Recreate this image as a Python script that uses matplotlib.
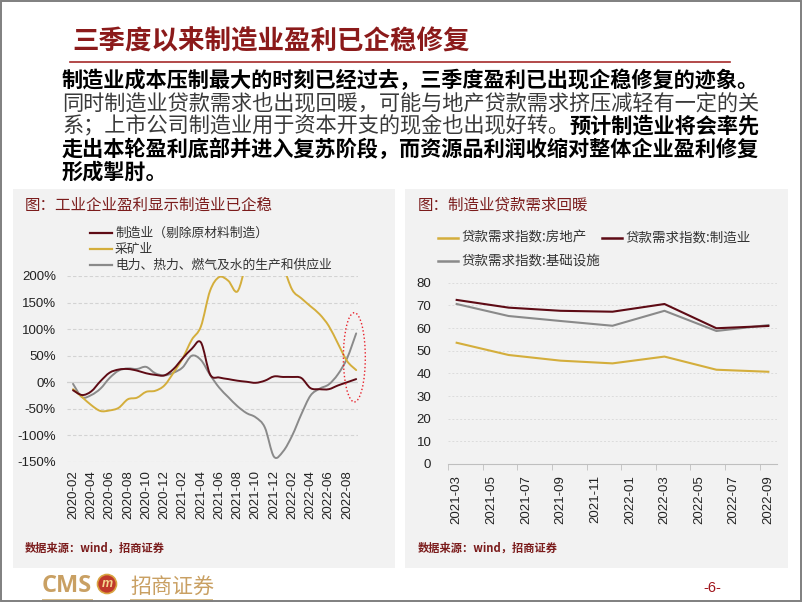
import matplotlib
matplotlib.use("Agg")
import matplotlib.pyplot as plt
from matplotlib.patches import Rectangle, Ellipse, Circle, PathPatch
from matplotlib.path import Path
import pandas as pd

plt.rcParams['font.family'] = ['Noto Sans CJK SC', 'DejaVu Sans']

W, H = 802, 602
NUM_FONT = ['Liberation Sans', 'DejaVu Sans']
DARK_RED = '#7B1C1C'

# ---- left chart: industrial profit growth (%), monthly 2020-02 .. 2022-09
months = pd.date_range('2020-02', '2022-09', freq='MS').strftime('%Y-%m').tolist()
mfg_profit = [-15, -24, -17, 2, 18, 24, 25, 22, 17, 14, 13, 25, 45, 63, 75, 15,
              9, 6, 3, 1, -1, 3, 11, 10, 10, 8, -11, -13, -13, -6, 0, 6]
mining_profit = [-13, -28, -43, -54, -53, -48, -32, -29, -18, -16, -6, 18, 45, 80, 105, 172,
                 198, 191, 171, 225, 265, 290, 270, 220, 174, 158, 143, 128, 106, 73, 40, 23]
util_profit = [-3, -28, -24, -12, 8, 22, 26, 25, 29, 17, 13, 18, 28, 50, 42, 14,
               -10, -28, -45, -58, -66, -85, -140, -130, -100, -60, -25, -12, -4, 15, 45, 92]
left_labels = ['制造业（剔除原材料制造）', '采矿业', '电力、热力、燃气及水的生产和供应业']

# ---- right chart: loan demand index, quarterly
loan_months = pd.date_range('2021-03', '2022-09', freq='MS').strftime('%Y-%m').tolist()
loan_quarters = ['2021-03', '2021-06', '2021-09', '2021-12', '2022-03', '2022-06', '2022-09']
loan_realestate = [53.5, 48.1, 45.6, 44.4, 47.4, 41.6, 40.7]
loan_mfg = [72.4, 69.0, 67.6, 67.2, 70.6, 59.9, 60.9]
loan_infra = [70.6, 65.3, 63.1, 61.0, 67.6, 58.7, 61.3]
right_labels = ['贷款需求指数:房地产', '贷款需求指数:制造业', '贷款需求指数:基础设施']

C_RED = '#5E0B15'
C_GOLD = '#D4AE3C'
C_GRAY = '#8A8A8A'


def px_axes(x0, y0, x1, y1):
    return fig.add_axes([x0 / W, 1 - y1 / H, (x1 - x0) / W, (y1 - y0) / H])


def pt(px):
    return px * 0.72


def smooth_line(ax, x, y, color, lw):
    # excel-style smoothed line: cubic bezier through every data point
    n = len(x)
    verts = [(x[0], y[0])]
    codes = [Path.MOVETO]
    for i in range(n - 1):
        a = max(i - 1, 0)
        b = min(i + 2, n - 1)
        c1 = (x[i] + (x[i + 1] - x[a]) / 6, y[i] + (y[i + 1] - y[a]) / 6)
        c2 = (x[i + 1] - (x[b] - x[i]) / 6, y[i + 1] - (y[b] - y[i]) / 6)
        verts += [c1, c2, (x[i + 1], y[i + 1])]
        codes += [Path.CURVE4] * 3
    ax.add_patch(PathPatch(Path(verts, codes), fill=False, ec=color, lw=lw,
                           capstyle='round', joinstyle='round'))


fig = plt.figure(figsize=(W / 100, H / 100), dpi=100)
bg = fig.add_axes([0, 0, 1, 1])
bg.set_xlim(0, W)
bg.set_ylim(H, 0)
bg.axis('off')

# heading
bg.text(72, 42, '三季度以来制造业盈利已企稳修复', fontsize=pt(26.5), color='#8B1A1A',
        weight='bold', va='center')
bg.plot([70, 730], [62, 62], color='#A52A2A', lw=1.2)

# paragraph, mixing bold and regular runs
para = [
    [('制造业成本压制最大的时刻已经过去，三季度盈利已出现企稳修复的迹象。', True)],
    [('同时制造业贷款需求也出现回暖，可能与地产贷款需求挤压减轻有一定的关', False)],
    [('系；上市公司制造业用于资本开支的现金也出现好转。', False), ('预计制造业将会率先', True)],
    [('走出本轮盈利底部并进入复苏阶段，而资源品利润收缩对整体企业盈利修复', True)],
    [('形成掣肘。', True)],
]
for k, runs in enumerate(para):
    y = 80 + k * 23
    prev = None
    for s, bold in runs:
        kw = dict(fontsize=pt(21.2), va='center', ha='left',
                  color='#000000' if bold else '#3A3A3A',
                  weight='bold' if bold else 'normal')
        if prev is None:
            prev = bg.text(62, y, s, **kw)
        else:
            prev = bg.annotate(s, xy=(1, 0.5), xycoords=prev, **kw)

# panels
bg.add_patch(Rectangle((13, 189), 382, 379, fc='#F2F2F2', ec='none'))
bg.add_patch(Rectangle((405, 189), 383, 379, fc='#F2F2F2', ec='none'))

bg.text(25, 205, '图：工业企业盈利显示制造业已企稳', fontsize=pt(15.5), color=DARK_RED, va='center')
bg.text(418, 205, '图：制造业贷款需求回暖', fontsize=pt(15.5), color=DARK_RED, va='center')

# left legend
for (lab, col), y in zip(zip(left_labels, [C_RED, C_GOLD, C_GRAY]), [233, 249, 265]):
    bg.plot([90, 112], [y, y], color=col, lw=1.6)
    bg.text(115, y, lab, fontsize=pt(12.8), color='#333333', va='center')

# right legend
for lab, col, x, y in zip(right_labels, [C_GOLD, C_RED, C_GRAY],
                          [438, 602, 438], [238, 238, 261]):
    bg.plot([x, x + 20], [y, y], color=col, lw=1.8)
    bg.text(x + 23, y, lab, fontsize=pt(13.5), color='#333333', va='center')

# ---- left axes
ax1 = px_axes(67, 276, 358, 462)
ax1.set_facecolor('none')
xi = list(range(len(months)))
smooth_line(ax1, xi, util_profit, C_GRAY, 1.4)
smooth_line(ax1, xi, mining_profit, C_GOLD, 1.4)
smooth_line(ax1, xi, mfg_profit, C_RED, 1.4)
ax1.set_xlim(-0.66, 31.2)
ax1.set_ylim(-150, 200)
yt = list(range(-150, 201, 50))
ax1.set_yticks(yt)
ax1.set_yticklabels([f'{v}%' for v in yt], family=NUM_FONT, fontsize=9.5, color='#222222')
for v in yt:
    if v == 0:
        ax1.axhline(v, color='#D0D0D0', lw=0.9, zorder=0)
    else:
        ax1.axhline(v, color='#D3D3D3', lw=0.8, ls=(0, (3, 2)), zorder=0)
ax1.set_xticks(xi[::2])
ax1.set_xticklabels(months[::2], rotation=90, family=NUM_FONT, fontsize=9.5, color='#222222')
ax1.tick_params(length=0)
ax1.tick_params(axis='y', pad=8)
ax1.tick_params(axis='x', pad=6)
for sp in ax1.spines.values():
    sp.set_visible(False)
ax1.add_patch(Ellipse((30.8, 47), 2.4, 168, fill=False, ec='#E8202A', ls=':', lw=1.0,
                      clip_on=False))

# ---- right axes
ax2 = px_axes(448, 282.7, 777, 464)
ax2.set_facecolor('none')
qx = [loan_months.index(q) for q in loan_quarters]
ax2.plot(qx, loan_realestate, color=C_GOLD, lw=1.5)
ax2.plot(qx, loan_infra, color=C_GRAY, lw=1.5)
ax2.plot(qx, loan_mfg, color=C_RED, lw=1.5)
ax2.set_xlim(-0.5, len(loan_months) - 0.5)
ax2.set_ylim(0, 80)
ax2.set_yticks(range(0, 81, 10))
ax2.set_yticklabels([str(v) for v in range(0, 81, 10)], family=NUM_FONT, fontsize=9.5,
                    color='#222222')
for v in range(10, 81, 10):
    ax2.axhline(v, color='#DCDCDC', lw=0.7, ls=(0, (2, 2)), zorder=0)
ax2.set_xticks(range(0, len(loan_months), 2))
ax2.set_xticklabels(loan_months[::2], rotation=90, family=NUM_FONT, fontsize=9.5,
                    color='#222222')
ax2.set_xticks([v - 0.5 for v in range(0, len(loan_months), 2)], minor=True)
ax2.tick_params(axis='x', which='major', length=0, pad=8)
ax2.tick_params(axis='x', which='minor', length=4, color='#BFBFBF', direction='out')
ax2.tick_params(axis='y', length=0, pad=12)
for name, sp in ax2.spines.items():
    sp.set_visible(name == 'bottom')
ax2.spines['bottom'].set_color('#BFBFBF')
ax2.spines['bottom'].set_linewidth(0.8)

# sources
for x in (25, 418):
    bg.text(x, 548, '数据来源：wind，招商证券', fontsize=pt(11.2), color=DARK_RED,
            weight='bold', va='center')

# footer logo and page number
bg.text(42, 586, 'CMS', fontsize=17, color='#C9A063', weight='bold',
        family=['Open Sans', 'DejaVu Sans'], va='center')
bg.add_patch(Circle((107, 584), 9.5, fc='#C0392B', ec='#D9A441', lw=1.2))
bg.text(107, 584, 'm', fontsize=9, color='#F5D78E', weight='bold', style='italic',
        ha='center', va='center', family=NUM_FONT)
bg.text(130, 587, '招商证券', fontsize=pt(21), color='#C9A063', va='center')
bg.add_patch(Rectangle((42, 599), 51, 3, fc='#D9BE8A', ec='none'))
bg.add_patch(Rectangle((130, 599), 83, 3, fc='#D9BE8A', ec='none'))
bg.text(712, 588, '-6-', fontsize=10.5, color='#A0151C', ha='center', va='center',
        family=NUM_FONT)

bg.add_patch(Rectangle((0.7, 0.7), W - 1.4, H - 1.4, fill=False, ec='#7F7F7F', lw=1.4))

fig.savefig('out.png', dpi=100)
